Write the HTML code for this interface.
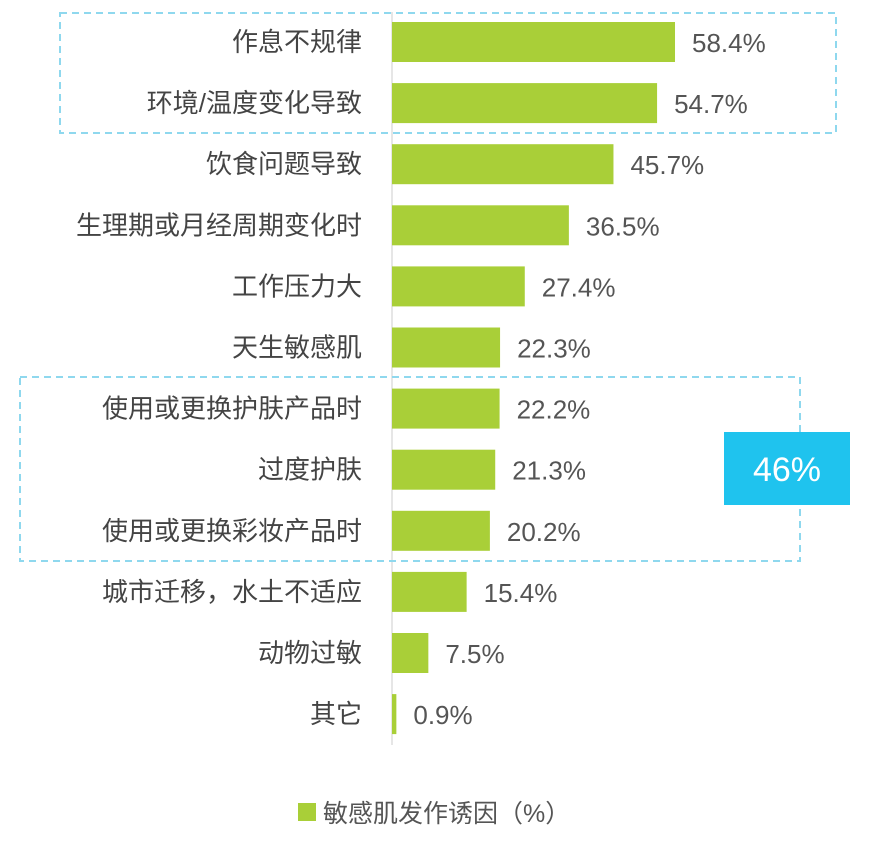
<!DOCTYPE html>
<html><head><meta charset="utf-8"><style>
body{margin:0;background:#fff;}
svg text{font-family:"Liberation Sans","Noto Sans CJK SC",sans-serif;}
</style></head><body>
<svg width="870" height="843" xmlns="http://www.w3.org/2000/svg" id="chart">
<g id="marks"></g>
<rect x="60" y="13" width="776" height="120" fill="none" stroke="#8fd8ee" stroke-width="2" stroke-dasharray="7,5"/>
<rect x="20" y="377" width="780" height="184" fill="none" stroke="#8fd8ee" stroke-width="2" stroke-dasharray="7,5"/>
<rect x="724" y="432" width="126" height="73" fill="#1fc3ee"/>
<text x="787" y="481" text-anchor="middle" font-size="34" fill="#fff">46%</text>
<rect x="298" y="803" width="18" height="18" fill="#a9cf38"/>
<text x="323" y="822" font-size="25" fill="#555">敏感肌发作诱因（%）</text>
</svg>
<script>
const categories=["作息不规律","环境/温度变化导致","饮食问题导致","生理期或月经周期变化时","工作压力大","天生敏感肌","使用或更换护肤产品时","过度护肤","使用或更换彩妆产品时","城市迁移，水土不适应","动物过敏","其它"];
const values=[58.4,54.7,45.7,36.5,27.4,22.3,22.2,21.3,20.2,15.4,7.5,0.9];
const x0=392, pxPer=4.846, y0=42, step=61.1, bh=40;
const xs=v=>x0+v*pxPer, ys=i=>y0+i*step;
const g=document.getElementById('marks');
const NS="http://www.w3.org/2000/svg";
const ax=document.createElementNS(NS,'line');


ax.setAttribute('x1',x0);ax.setAttribute('x2',x0);ax.setAttribute('y1',12);ax.setAttribute('y2',745);
ax.setAttribute('stroke','#ccc');ax.setAttribute('stroke-width','1');
g.appendChild(ax);
categories.forEach((c,i)=>{
 const cy=ys(i);
 const r=document.createElementNS(NS,'rect');
 
 
 r.setAttribute('x',x0);r.setAttribute('y',cy-bh/2);
 r.setAttribute('width',Math.max(0,xs(values[i])-x0));r.setAttribute('height',bh);
 r.setAttribute('fill','#a9cf38');g.appendChild(r);
 const t=document.createElementNS(NS,'text');
 
 
 t.setAttribute('x',362);t.setAttribute('y',cy+9);t.setAttribute('text-anchor','end');
 t.setAttribute('font-size','26');t.setAttribute('fill','#444');t.textContent=c;g.appendChild(t);
 const v=document.createElementNS(NS,'text');
 
 
 v.setAttribute('x',xs(values[i])+17);v.setAttribute('y',cy+10);
 v.setAttribute('font-size','26');v.setAttribute('fill','#555');v.textContent=values[i].toFixed(1)+'%';g.appendChild(v);
});
</script>
</body></html>
